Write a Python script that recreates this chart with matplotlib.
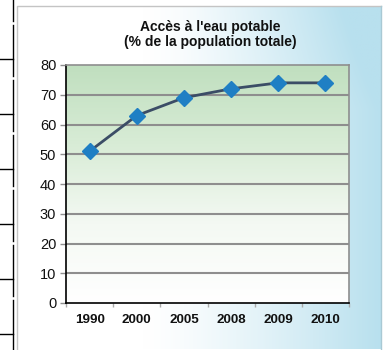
import numpy as np
import matplotlib
matplotlib.use("Agg")
import matplotlib.pyplot as plt
from matplotlib.colors import LinearSegmentedColormap

years = ["1990", "2000", "2005", "2008", "2009", "2010"]
access = [51, 63, 69, 72, 74, 74]
yticks = [0, 10, 20, 30, 40, 50, 60, 70, 80]
title = "Accès à l'eau potable\n(% de la population totale)"

W, H = 384, 350
fig = plt.figure(figsize=(W / 100, H / 100), dpi=100)
fig.patch.set_facecolor("white")

# background layer in pixel coords
bg = fig.add_axes([0, 0, 1, 1])
bg.set_xlim(0, W)
bg.set_ylim(H, 0)
bg.axis("off")

# frame gradient (white -> light blue)
fx0, fx1, fy0, fy1 = 17, 381, 6, 349
nx, ny = 200, 100
xx = np.linspace(0, 1, nx)
yy = np.linspace(0, 1, ny)
X, Y = np.meshgrid(xx, yy)
t = np.clip((X - 0.35) / 0.65, 0, 1) ** 1.3
t = np.clip(t + 0.25 * np.clip((X - 0.45) / 0.55, 0, 1) * np.clip(0.3 - Y, 0, 1) / 0.3, 0, 1)
c0 = np.array([1.0, 1.0, 1.0])
c1 = np.array([0xb8, 0xe0, 0xee]) / 255
img = c0[None, None, :] * (1 - t[..., None]) + c1[None, None, :] * t[..., None]
bg.imshow(img, extent=[fx0, fx1, fy1, fy0], aspect="auto", zorder=0, interpolation="bilinear")
bg.plot([fx0, fx0, fx1], [fy1, fy0, fy0], color="#c4c4c4", lw=1.0, zorder=1)
bg.plot([fx1, fx1], [fy0, fy1], color="#a9c9d4", lw=1.0, zorder=1)

# left page lines
gaps = [23, 78, 133, 188, 243, 298]
ys = [0] + sum([[g - 2, g + 2] for g in gaps], []) + [H]
for i in range(0, len(ys), 2):
    bg.plot([13, 13], [ys[i], ys[i + 1]], color="black", lw=1.0)
for hy in [59, 114, 169, 224, 279, 334]:
    bg.plot([0, 13], [hy, hy], color="black", lw=1.0)

# title
bg.text(210, 34.5, title, ha="center", va="center", fontsize=10, fontweight="bold",
        family="Liberation Sans", color="#111111", linespacing=1.1)

# plot axes
left, right, top, bottom = 66, 349, 65, 303
ax = fig.add_axes([left / W, (H - bottom) / H, (right - left) / W, (bottom - top) / H])
ax.set_xlim(-0.5, len(years) - 0.5)
ax.set_ylim(0, 80)

cmap = LinearSegmentedColormap.from_list("g", ["#ffffff", "#f4f9f3", "#d8ecd6", "#c0dfbf"])
grad = np.linspace(0, 1, 256).reshape(-1, 1)
ax.imshow(grad, extent=[0, 1, 0, 1], transform=ax.transAxes, cmap=cmap, origin="lower",
          aspect="auto", zorder=0, interpolation="bilinear")

for yv in yticks[1:-1]:
    ax.axhline(yv, color="#8e8e8e", lw=1.5, zorder=1)

x = np.arange(len(years))
ax.plot(x, access, color="#3b4d66", lw=2.0, zorder=3)
ax.plot(x, access, ls="none", marker="D", ms=8.5, mfc="#1f7fc4", mec="#1f7fc4", zorder=4)

for s in ["top", "right"]:
    ax.spines[s].set_color("#8e8e8e")
    ax.spines[s].set_linewidth(1.2)
for s in ["left", "bottom"]:
    ax.spines[s].set_color("black")
    ax.spines[s].set_linewidth(1.2)

ax.set_yticks(yticks)
ax.set_yticklabels([str(v) for v in yticks], fontsize=10.5, family="Liberation Sans", color="#111111")
ax.tick_params(axis="y", length=4, width=1, color="#8e8e8e", pad=3)
ax.set_xticks(x)
ax.set_xticklabels(years, fontsize=9.6, fontweight="bold", family="Liberation Sans", color="#111111")
ax.tick_params(axis="x", which="major", length=0, pad=8)
ax.set_xticks(np.arange(-0.5, len(years)), minor=True)
ax.tick_params(axis="x", which="minor", length=3, width=1, color="#aaaaaa")

fig.savefig("out.png", dpi=100, facecolor="white")
